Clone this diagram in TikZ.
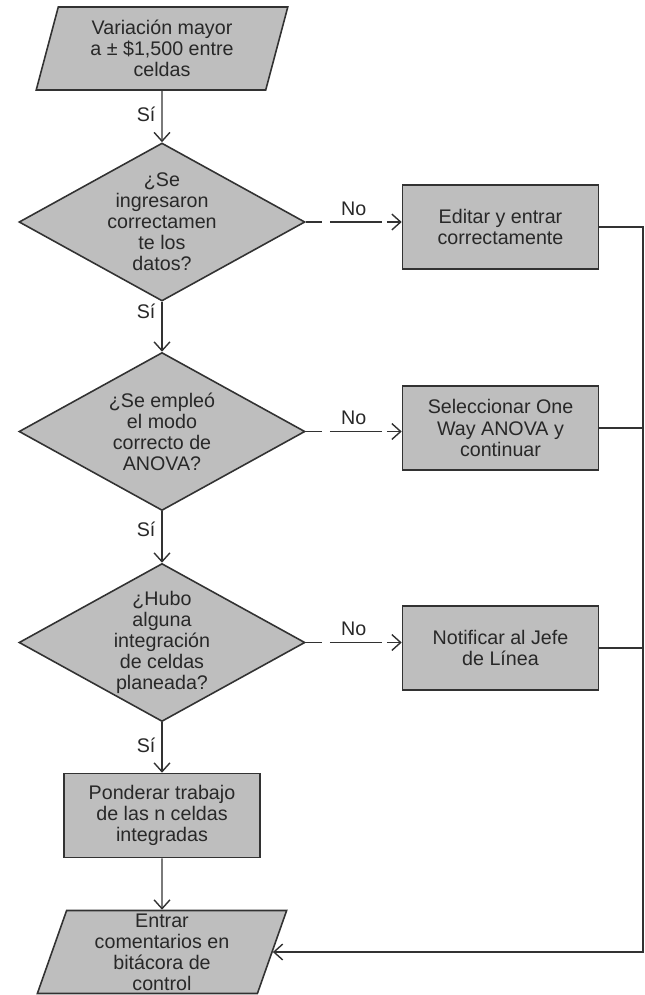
\documentclass[tikz,border=0pt]{standalone}
\usepackage{fontspec}
\setmainfont{Liberation Sans}
\usetikzlibrary{shapes,arrows.meta,positioning,calc}

\newlength\px
\setlength\px{0.02cm}
\definecolor{boxgray}{RGB}{190,190,190}
\definecolor{edgegray}{RGB}{50,50,50}
\definecolor{inkgray}{RGB}{40,40,40}

\begin{document}
\begin{tikzpicture}[x=\px,y=-\px,
    every node/.style={font=\fontsize{11.2}{12}\selectfont,text=inkgray},
    proc/.style={draw=edgegray,line width=0.9pt,fill=boxgray,align=center,
      minimum width=196\px,minimum height=84\px,inner sep=0pt},
    io/.style={trapezium,trapezium left angle=75,trapezium right angle=105,
      trapezium stretches=true,draw=edgegray,line width=0.9pt,fill=boxgray,
      align=center,minimum width=252\px,minimum height=83\px,inner sep=0pt},
    decision/.style={diamond,aspect=1.8,draw=edgegray,line width=0.9pt,
      fill=boxgray,align=center,inner sep=-5pt,
      minimum width=286\px,minimum height=158\px},
    wire/.style={draw=edgegray,line width=0.8pt},
    flow/.style={wire,-{Straight Barb[length=5pt,width=9pt]}},
    nobranch/.style={flow,dash pattern=on 16\px off 8\px on 52\px off 5\px on 40\px}
  ]
      \useasboundingbox (0,0) rectangle (645,995);
      \coordinate (rail) at (643,228);

      % main column
      \node[io] (start) at (162,48.5) {Variación mayor\\a ± \$1,500 entre\\celdas};
      \node[decision] (q1) at (162,222) {¿Se\\ingresaron\\correctamen\\te los\\datos?};
      \node[decision] (q2) at (162,431.5) {¿Se empleó\\el modo\\correcto de\\ANOVA?};
      \node[decision] (q3) at (162,642.5) {¿Hubo\\alguna\\integración\\de celdas\\planeada?};
      \node[proc] (weigh) at (162,815.5) {Ponderar trabajo\\de las n celdas\\integradas};
      \node[io] (log) at (162,952) {Entrar\\comentarios en\\bitácora de\\control};

      % corrections
      \node[proc] (fix1) at (500.5,227) {Editar y entrar\\correctamente};
      \node[proc] (fix2) at (500.5,428) {Seleccionar One\\Way ANOVA y\\continuar};
      \node[proc] (fix3) at (500.5,648) {Notificar al Jefe\\de Línea};

      \draw[flow] (start) --node[left,pos=0.45] {Sí} (q1);
      \draw[flow] (q1) --node[left,pos=0.2] {Sí} (q2);
      \draw[flow] (q2) --node[left,pos=0.35] {Sí} (q3);
      \draw[flow] (q3) --node[left,pos=0.45] {Sí} (weigh);
      \draw[flow] (weigh) -- (log);

      \draw[nobranch] (q1.east) --node[above] {No} (q1.east -| fix1.west);
      \draw[nobranch] (q2.east) --node[above] {No} (q2.east -| fix2.west);
      \draw[nobranch] (q3.east) --node[above] {No} (q3.east -| fix3.west);

      \draw[flow] (fix1.east) -| (rail |- log.east) -- (log.east);
      \draw[wire] (fix2.east) -- (fix2.east -| rail);
      \draw[wire] (fix3.east) -- (fix3.east -| rail);
    \end{tikzpicture}
\end{document}
